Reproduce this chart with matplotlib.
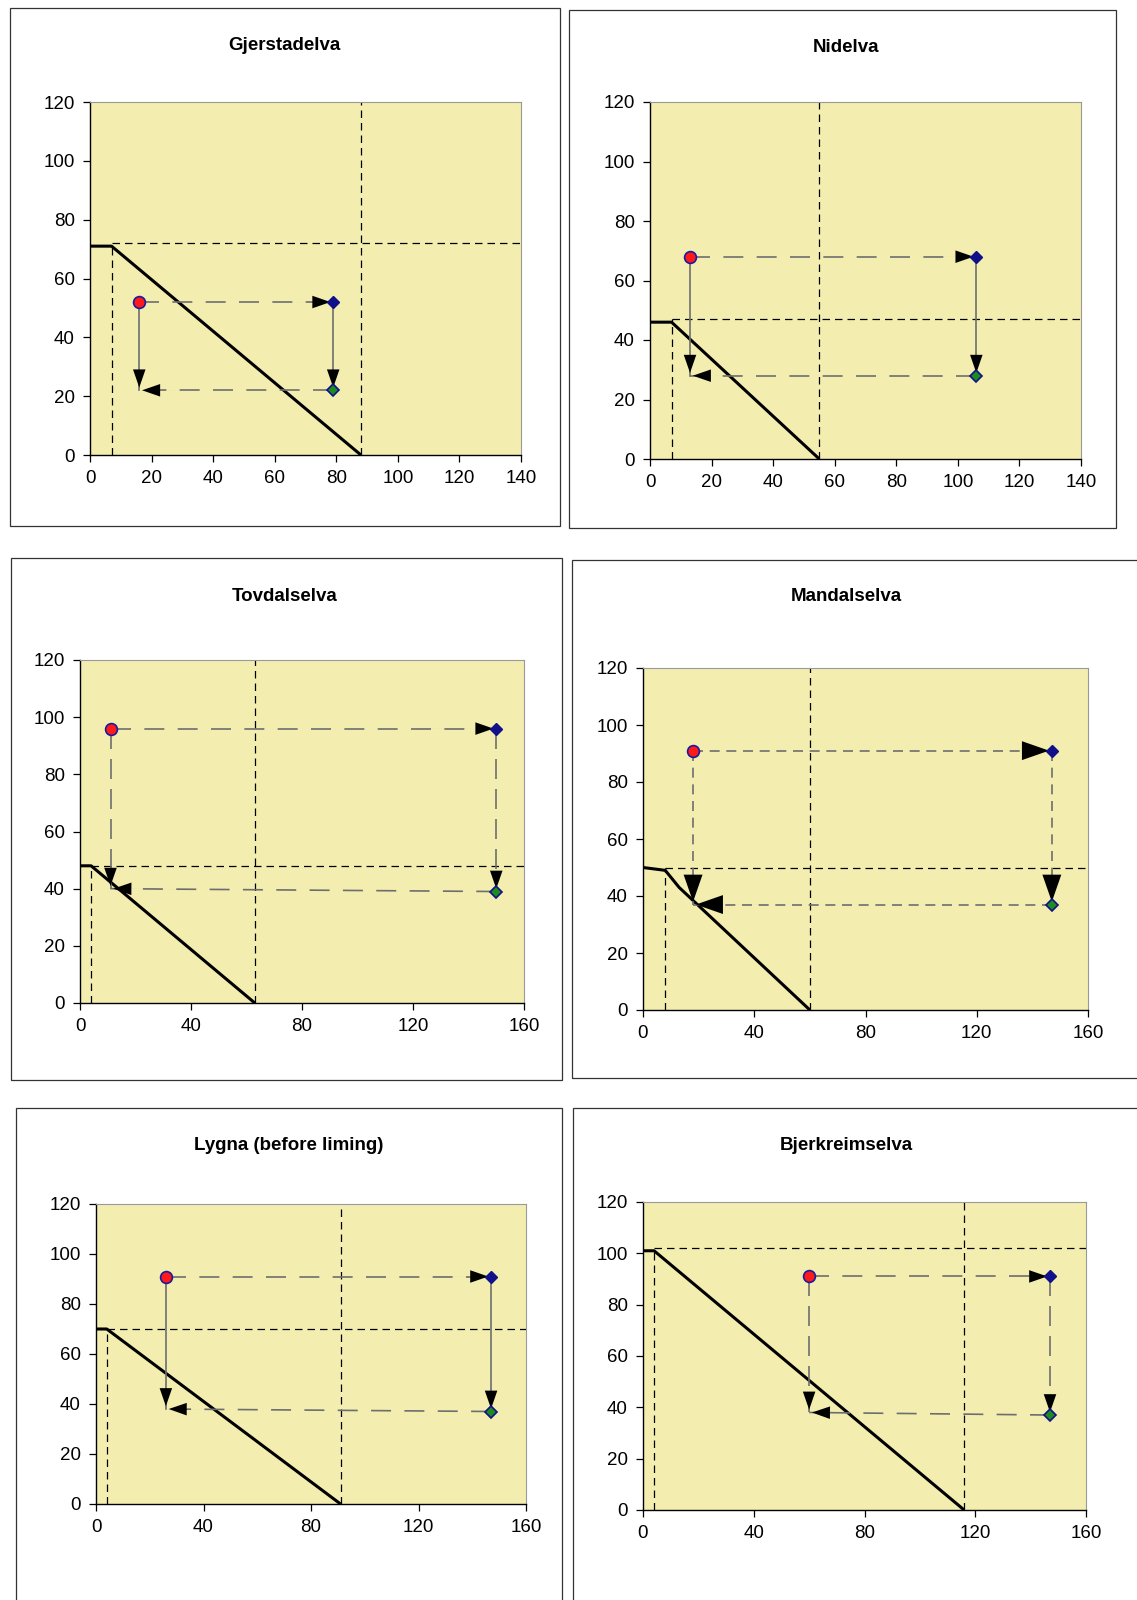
import matplotlib
matplotlib.use("Agg")
from matplotlib import pyplot as plt
from matplotlib.patches import Rectangle

plt.rcParams['font.family'] = ['Liberation Sans', 'DejaVu Sans']

W, H = 1137, 1600

# data per panel
names = ["Gjerstadelva", "Nidelva", "Tovdalselva", "Mandalselva",
         "Lygna (before liming)", "Bjerkreimselva"]
x_max = [140, 140, 160, 160, 160, 160]
x_step = [20, 20, 40, 40, 40, 40]
# solid critical line
line_x = [[0, 7, 88], [0, 7, 55], [0, 4, 63], [0, 8, 13, 60], [0, 4, 91], [0, 4, 116]]
line_y = [[71, 71, 0], [46, 46, 0], [48, 48, 0], [50, 49, 43, 0], [70, 70, 0], [101, 101, 0]]
# dashed guide lines
h_guide = [72, 47, 48, 50, 70, 102]
v_guide_low = [7, 7, 4, 8, 4, 4]
v_guide = [88, 55, 63, 60, 91, 116]
# points: red start, blue, green
red_x = [16, 13, 11, 18, 26, 60]
red_y = [52, 68, 96, 91, 91, 91]
blue_x = [79, 106, 150, 147, 147, 147]
blue_y = [52, 68, 96, 91, 91, 91]
green_x = [79, 106, 150, 147, 147, 147]
green_y = [22, 28, 39, 37, 37, 37]
corner_y = [22, 28, 40, 37, 38, 38]

# layout in pixels
plot_px = [(90, 521, 102, 455), (650, 1081, 102, 459), (80, 524, 660, 1003),
           (643, 1088, 668, 1010), (96, 526, 1204, 1504), (643, 1086, 1202, 1510)]
box_px = [(10, 560, 8, 526), (569, 1116, 10, 528), (11, 562, 558, 1080),
          (572, 1140, 560, 1078), (16, 562, 1108, 1620), (573, 1140, 1108, 1620)]
title_px = [(284, 45), (846, 47), (285, 596), (846, 597), (289, 1146), (846, 1146)]
short_dash = [False, False, False, True, False, False]
head_scale = [1.0, 1.0, 1.0, 1.5, 1.0, 1.0]

fig = plt.figure(figsize=(W / 100, H / 100), dpi=100)

for i in range(6):
    bx0, bx1, by0, by1 = box_px[i]
    fig.patches.append(Rectangle((bx0 / W, 1 - by1 / H), (bx1 - bx0) / W, (by1 - by0) / H,
                                 transform=fig.transFigure, fill=False,
                                 edgecolor="#333333", lw=0.9))
    tx, ty = title_px[i]
    fig.text(tx / W, 1 - ty / H, names[i], ha="center", va="center",
             fontsize=13.5, fontweight="bold")

    x0, x1, yt, yb = plot_px[i]
    ax = fig.add_axes([x0 / W, 1 - yb / H, (x1 - x0) / W, (yb - yt) / H])
    ax.set_facecolor("#f3eeb0")
    ax.set_xlim(0, x_max[i])
    ax.set_ylim(0, 120)
    ax.set_xticks(range(0, x_max[i] + 1, x_step[i]))
    ax.set_yticks(range(0, 121, 20))
    ax.tick_params(direction="out", length=5, labelsize=13.5, pad=6, width=0.9)
    for s in ["top", "right"]:
        ax.spines[s].set_color("#999999")
    for s in ["left", "bottom"]:
        ax.spines[s].set_linewidth(1.0)

    guide = dict(color="black", lw=0.9, ls=(0, (6, 4)), zorder=2)
    ax.plot([v_guide_low[i], x_max[i]], [h_guide[i], h_guide[i]], **guide)
    ax.plot([v_guide_low[i], v_guide_low[i]], [0, h_guide[i]], **guide)
    ax.plot([v_guide[i], v_guide[i]], [0, 120], **guide)

    ax.plot(line_x[i], line_y[i], color="black", lw=2.2, zorder=3, solid_capstyle="butt")

    if short_dash[i]:
        hs, vs = (0, (6, 4)), (0, (6, 4))
    else:
        hs = (0, (12, 8))
        vs = "-" if i in (0, 1, 4) else (0, (12, 6))
    arr = dict(color="#6e6e6e", lw=1.2, zorder=4)
    rx, ry = red_x[i], red_y[i]
    gx, gy = green_x[i], green_y[i]
    cy = corner_y[i]
    segs = [((rx, ry), (blue_x[i], blue_y[i]), hs),
            ((blue_x[i], blue_y[i]), (gx, gy), vs),
            ((rx, ry), (rx, cy), vs),
            ((gx, gy), (rx, cy), hs)]
    hscale = head_scale[i]
    for (sx, sy), (ex, ey), st in segs:
        ax.plot([sx, ex], [sy, ey], ls=st, **arr)
        # arrow head only
        fx = sx + (ex - sx) * 0.8
        fy = sy + (ey - sy) * 0.8
        ax.annotate("", xy=(ex, ey), xytext=(fx, fy),
                    arrowprops=dict(arrowstyle="-|>,head_length=%.2f,head_width=%.2f"
                                    % (1.3 * hscale, 0.45 * hscale),
                                    color="black", lw=0.01, shrinkA=0, shrinkB=2),
                    zorder=5)

    ax.plot(rx, ry, "o", ms=8.5, mfc="#ff1a1a", mec="#1a1aa0", mew=1.2, zorder=6)
    ax.plot(blue_x[i], blue_y[i], "D", ms=6.5, mfc="#10108a", mec="#10108a", zorder=6)
    ax.plot(gx, gy, "D", ms=6.5, mfc="#1c8c1c", mec="#10108a", mew=1.2, zorder=6)

fig.savefig("out.png", dpi=100)
